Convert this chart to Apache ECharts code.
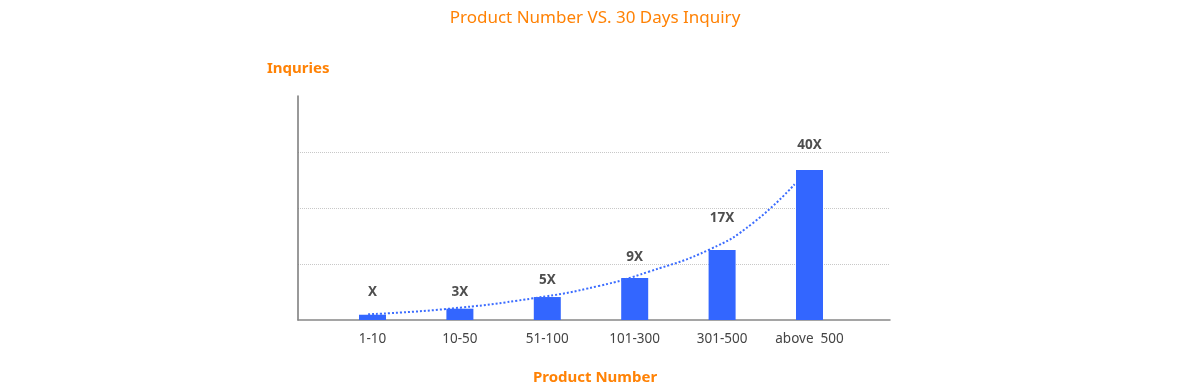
<!DOCTYPE html>
<html>
<head>
<meta charset="utf-8">
<script src="https://cdn.jsdelivr.net/npm/echarts@6/dist/echarts.min.js"></script>
<style>html,body{margin:0;padding:0;background:#fff}#c{width:1190px;height:392px}</style>
</head>
<body>
<div id="c"></div>
<script>
// ---- data ----
var categories = ['1-10', '10-50', '51-100', '101-300', '301-500', 'above  500'];
var barValues = [4.7, 10.1, 20.5, 37.5, 62.5, 134];
var barLabels = ['X', '3X', '5X', '9X', '17X', '40X'];
var labelValues = [25, 25, 35.7, 56.3, 91, 156];
// dotted trend curve: x in category-index units, y in value units
var trendX = [-0.05, 0.84, 1.84, 2.59, 3.16, 3.86, 4.35, 4.83];
var trendY = [5.1, 9.8, 19.4, 30.4, 43.1, 63.1, 86.4, 121.2];
var yTicks = [0, 50, 100, 150, 200];

var orange = '#ff8205';
var font = '"Noto Sans", "Open Sans", sans-serif';

var chart = echarts.init(document.getElementById('c'));
chart.setOption({
  animation: false,
  title: {
    text: 'Product Number VS. 30 Days Inquiry',
    left: 'center', top: 5,
    textStyle: { color: orange, fontSize: 17, fontWeight: 'normal', fontFamily: font }
  },
  graphic: [
    { type: 'text', left: 267, top: 61, style: { text: 'Inquries', fill: orange, font: 'bold 15px ' + font } },
    { type: 'text', left: 'center', top: 370, style: { text: 'Product Number', fill: orange, font: 'bold 15px ' + font } }
  ],
  grid: [
    { left: 298, top: 96, width: 592, height: 224 },
    { left: 328.8, top: 96, width: 524.4, height: 224 }
  ],
  xAxis: [
    { type: 'value', gridIndex: 0, min: 0, max: 1, axisLine: { show: true, onZero: false, lineStyle: { color: '#888', width: 1.5 } },
      axisTick: { show: false }, axisLabel: { show: false }, splitLine: { show: false } },
    { type: 'category', gridIndex: 1, data: categories, axisLine: { show: false }, axisTick: { show: false },
      axisLabel: { color: '#444', fontSize: 13.5, fontFamily: font, margin: 12, interval: 0 } },
    { type: 'value', gridIndex: 1, min: -0.5, max: 5.5, show: false }
  ],
  yAxis: [
    { type: 'value', gridIndex: 0, min: yTicks[0], max: yTicks[yTicks.length - 1], interval: yTicks[1] - yTicks[0],
      axisLine: { show: true, lineStyle: { color: '#777', width: 1.5 } }, axisTick: { show: false }, axisLabel: { show: false },
      splitLine: { show: true, showMinLine: false, showMaxLine: false, lineStyle: { color: '#c8c8c8', type: 'dotted', width: 1 } } },
    { type: 'value', gridIndex: 1, min: yTicks[0], max: yTicks[yTicks.length - 1], show: false }
  ],
  series: [
    { type: 'bar', xAxisIndex: 1, yAxisIndex: 1, data: barValues, barWidth: 27, itemStyle: { color: '#3366ff' }, z: 2 },
    { type: 'line', xAxisIndex: 2, yAxisIndex: 1, smooth: true, symbol: 'none', z: 3,
      data: trendX.map(function (x, i) { return [x, trendY[i]]; }),
      lineStyle: { color: '#3b6cff', width: 2, type: 'dotted' } },
    { type: 'scatter', xAxisIndex: 1, yAxisIndex: 1, symbolSize: 0, z: 4,
      data: labelValues.map(function (v, i) { return { value: v, name: barLabels[i] }; }),
      label: { show: true, position: 'inside', formatter: '{b}', color: '#222', fontSize: 13.5, fontWeight: 'bold', fontFamily: font } }
  ]
});
</script>
</body>
</html>
